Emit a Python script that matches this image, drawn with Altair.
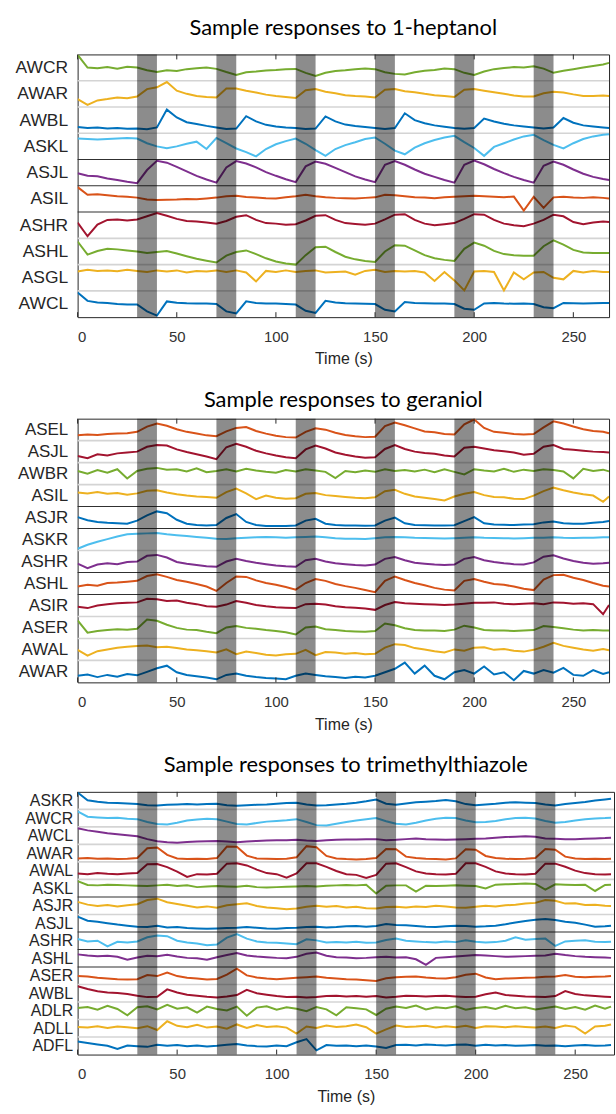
import altair as alt
import pandas as pd

# ---------------- time base (s) and stimulus windows ----------------
T = list(range(0, 270, 5)) + [268]
BAND_START = [30, 70, 110, 150, 190, 230]
BAND_END = [40, 80, 120, 160, 200, 240]
X_TICKS = [0, 50, 100, 150, 200, 250]

BLUE, ORANGE, YELLOW, PURPLE = "#0072BD", "#D95319", "#EDB120", "#7E2F8E"
GREEN, LBLUE, DRED = "#77AC30", "#4DBEEE", "#A2142F"

# ---------------- panel 1 : 1-heptanol (values in % of row height) ----------------
p1_AWCR = [98,50,47,52,46,53,50,40,33,40, 37,44,47,50,45,33,22,32,35,39, 41,44,45,30,18,30,37,40,44,46,
           44,32,26,24,32,38,41,46,44,30, 22,35,44,48,52,50,55,46,30,38, 44,50,56,62,68]
p1_AWAR = [30,8,25,30,36,33,40,68,75,95, 62,50,42,38,36,70,70,62,55,47, 42,38,34,64,68,58,52,45,42,40,
           36,66,68,60,56,50,45,42,38,66, 68,62,56,50,44,40,40,52,58,55, 48,42,42,44,42]
p1_AWBL = [24,20,22,18,20,17,18,15,22,90, 60,42,35,28,22,16,18,65,45,32, 26,22,20,16,18,64,45,33,28,24,
           20,16,20,76,50,38,30,25,20,17, 20,56,45,36,30,26,22,18,22,58, 40,30,26,22,20]
p1_ASKL = [80,78,76,78,80,82,80,62,50,43, 50,60,68,40,82,62,42,28,12,40, 58,70,80,60,36,14,40,55,66,78,
           84,60,34,20,45,62,74,84,90,66, 44,14,48,62,76,88,94,74,56,42, 62,78,88,94,96]
p1_ASJL = [48,38,36,28,22,15,10,60,95,88, 72,55,38,24,12,70,94,85,70,52, 38,25,14,74,92,84,68,52,36,24,
           14,80,94,80,62,46,34,22,12,80, 96,82,64,48,34,22,12,76,92,80, 62,46,34,26,22]
p1_ASIL = [95,66,68,64,60,58,55,48,46,47, 48,50,49,52,55,60,62,57,55,53, 52,56,60,66,60,56,54,53,52,54,
           56,66,64,60,56,55,53,56,58,60, 62,60,58,56,59,6,58,16,56,58, 55,54,56,54,52]
p1_ASHR = [60,8,52,70,72,68,72,84,96,86, 74,66,64,60,56,66,82,88,70,58, 56,52,54,68,86,88,70,58,55,52,
           56,72,90,92,70,56,50,54,58,74, 92,90,70,56,50,46,56,70,90,84, 62,54,60,64,62]
p1_ASHL = [88,38,52,60,58,54,50,44,48,52, 42,32,22,15,8,34,48,54,40,24, 12,4,0,36,66,68,48,30,20,14,
           10,50,74,72,54,36,24,18,14,60, 84,72,52,40,36,34,34,70,92,76, 56,46,44,44,44]
p1_ASGL = [74,80,76,78,75,80,76,72,78,74, 78,70,76,74,78,72,78,70,36,76, 72,78,72,76,78,70,72,74,62,76,
           80,72,76,74,76,70,38,72,40,2, 74,76,72,2,70,44,70,72,50,44, 76,70,76,72,72]
p1_AWCL = [94,62,56,54,50,48,48,22,6,60, 55,53,52,52,50,22,14,60,54,52, 52,50,48,24,16,62,56,53,52,51,
           50,28,22,58,54,53,52,52,50,32, 28,52,54,52,51,52,50,38,34,54, 53,52,53,54,54]

p1_names = ["AWCR", "AWAR", "AWBL", "ASKL", "ASJL", "ASIL", "ASHR", "ASHL", "ASGL", "AWCL"]
p1_series = [p1_AWCR, p1_AWAR, p1_AWBL, p1_ASKL, p1_ASJL, p1_ASIL, p1_ASHR, p1_ASHL, p1_ASGL, p1_AWCL]
p1_colors = [GREEN, YELLOW, BLUE, LBLUE, PURPLE, ORANGE, DRED, GREEN, YELLOW, BLUE]
p1_seps = ["g", "g", "g", "k", "k", "k", "g", "g", "g"]

# ---------------- panel 2 : geraniol ----------------
p2_ASEL = [24,28,26,30,32,34,40,64,78,68, 52,40,32,24,20,42,58,62,44,32, 22,16,14,40,56,50,36,26,20,16,
           18,66,82,70,56,42,38,30,28,74, 96,58,40,36,30,28,30,60,88,78, 64,52,44,40,34]
p2_ASJL = [30,20,38,32,42,46,50,72,80,78, 60,48,38,28,16,70,86,72,54,42, 32,24,20,60,78,64,46,36,28,22,
           24,62,80,62,50,44,40,32,28,68, 72,64,56,52,46,36,40,72,80,62, 58,54,50,48,46]
p2_AWBR = [62,50,66,54,70,28,62,72,76,68, 70,60,74,56,62,70,60,72,64,58, 54,66,60,70,64,58,30,62,56,64,
           58,70,62,66,60,68,56,70,58,46, 70,64,60,72,58,68,62,70,66,60, 28,72,62,68,60]
p2_ASIL = [64,60,66,58,62,54,60,72,74,64, 56,50,46,44,40,66,82,60,34,50, 40,36,38,58,62,52,48,44,40,38,
           42,70,76,58,46,40,34,28,46,58, 66,52,44,42,36,34,50,70,86,74, 64,56,50,22,46]
p2_ASJR = [52,38,30,26,24,22,36,60,78,70, 40,22,16,14,16,48,66,30,16,12, 12,12,14,36,44,22,16,14,14,13,
           14,36,50,24,16,15,14,14,15,34, 52,24,18,17,16,18,20,28,32,24, 22,22,26,30,34]
p2_ASKR = [8,26,40,52,64,74,76,78,80,74, 70,66,62,58,54,52,56,58,60,62, 60,58,60,62,64,60,56,54,53,52,
           56,60,62,60,58,57,56,55,56,58, 60,58,57,56,55,56,58,58,60,58, 57,58,58,60,60]
p2_ASHR = [40,20,36,42,38,48,50,76,80,68, 48,40,34,28,26,50,62,52,44,38, 32,28,26,56,62,50,42,38,34,32,
           36,62,70,56,44,40,36,34,36,62, 70,56,48,42,38,36,46,72,78,64, 52,44,40,42,44]
p2_ASHL = [36,44,40,52,54,58,62,84,92,80, 66,58,48,36,16,52,82,80,64,52, 44,34,22,52,70,62,48,38,30,20,
           10,62,82,66,52,42,30,22,18,62, 70,58,48,44,36,26,20,68,88,90, 76,66,52,40,36]
p2_ASIR = [44,38,50,56,60,62,64,80,78,70, 72,62,56,46,44,54,70,62,52,46, 42,40,38,56,58,54,46,42,40,36,
           30,52,66,60,58,56,54,52,54,58, 62,62,64,58,56,58,60,56,64,62, 58,60,56,10,52]
p2_ASER = [82,26,34,38,42,40,44,86,80,62, 48,40,38,30,24,50,56,48,44,38, 34,28,18,50,54,42,38,34,32,30,
           34,68,60,46,38,36,36,34,40,58, 50,38,36,36,34,36,38,56,52,46, 40,36,38,36,36]
p2_AWAL = [48,22,42,50,58,62,66,68,60,62, 56,50,46,42,36,50,28,40,34,26, 22,28,30,48,24,38,36,30,34,28,
           30,58,74,70,56,50,42,36,50,44, 58,60,48,52,44,40,48,62,80,66, 58,50,44,52,46]
p2_AWAR = [30,36,24,34,26,38,32,48,64,76, 46,34,28,22,14,34,40,30,24,20, 18,14,30,40,34,28,24,20,26,22,
           30,46,62,90,40,76,30,14,46,56, 40,72,36,46,10,52,40,56,44,66, 34,30,56,38,46]

p2_names = ["ASEL", "ASJL", "AWBR", "ASIL", "ASJR", "ASKR", "ASHR", "ASHL", "ASIR", "ASER", "AWAL", "AWAR"]
p2_series = [p2_ASEL, p2_ASJL, p2_AWBR, p2_ASIL, p2_ASJR, p2_ASKR, p2_ASHR, p2_ASHL, p2_ASIR, p2_ASER,
             p2_AWAL, p2_AWAR]
p2_colors = [ORANGE, DRED, GREEN, YELLOW, BLUE, LBLUE, PURPLE, ORANGE, DRED, GREEN, YELLOW, BLUE]
p2_seps = ["g", "g", "g", "k", "k", "g", "k", "k", "g", "g", "g"]

# ---------------- panel 3 : trimethylthiazole ----------------
p3_ASKR = [96,52,44,38,36,34,30,24,22,26, 28,30,28,30,32,24,20,24,26,28, 32,36,38,28,22,24,28,32,38,46,
           56,32,26,34,40,44,48,54,46,30, 24,28,32,38,40,38,36,28,22,30, 36,42,50,56,60]
p3_AWCR = [88,58,54,50,52,46,44,28,16,14, 24,36,42,46,44,30,16,14,22,30, 34,38,44,28,10,8,18,28,36,44,
           50,32,18,14,24,36,46,52,50,36, 26,28,34,44,50,52,48,34,24,28, 36,44,48,50,52]
p3_AWCL = [92,80,72,64,58,52,46,30,18,12, 10,14,16,18,20,16,12,16,20,22, 24,24,26,22,20,24,26,28,28,30,
           30,24,26,30,34,30,28,26,28,30, 32,34,38,42,44,46,44,34,32,30, 30,32,34,36,38]
p3_AWAR = [20,22,18,20,16,18,22,78,82,40, 20,16,18,16,22,88,86,36,20,18, 16,18,26,90,84,34,20,16,14,16,
           22,74,72,30,22,18,16,14,20,72, 70,34,22,18,16,18,22,74,70,30, 20,16,18,16,18]
p3_AWAL = [34,30,36,32,30,34,36,86,88,70, 44,14,30,28,32,90,92,80,56,36, 30,10,34,92,92,72,48,30,26,8,
           26,90,92,70,46,34,30,28,32,92, 92,72,46,34,30,28,32,90,90,72, 50,36,30,28,30]
p3_ASKL = [90,68,66,70,68,66,64,62,66,70, 62,66,56,60,62,60,58,64,56,54, 56,58,60,62,60,64,66,68,66,70,
           20,64,66,66,30,64,62,64,66,64, 62,48,70,72,74,76,74,42,72,70, 68,70,34,68,70]
p3_ASJR = [72,56,48,54,46,52,58,82,90,70, 60,50,40,46,38,52,58,64,48,40, 36,30,34,44,50,44,48,40,44,36,
           34,42,44,40,46,42,50,46,40,38, 44,50,46,52,56,62,66,82,78,62, 64,54,56,50,48]
p3_ASJL = [88,64,58,50,42,36,30,28,36,26, 28,22,20,18,20,22,24,28,24,20, 18,22,24,28,30,26,28,32,34,30,
           34,46,40,38,34,30,28,32,36,34, 30,32,36,44,54,62,70,74,68,58, 52,42,30,32,36]
p3_ASHR = [60,46,50,18,44,40,46,70,80,76, 50,40,34,24,28,68,88,62,46,40, 38,34,30,58,52,40,42,40,44,38,
           40,54,62,50,46,42,40,46,42,52, 44,40,42,50,70,56,60,62,20,46, 50,52,44,42,44]
p3_ASHL = [72,66,62,64,58,42,54,64,62,70, 60,52,50,42,56,68,80,66,60,56, 52,50,58,76,82,64,56,54,50,52,
           56,58,54,56,44,12,52,56,60,64, 68,66,62,58,60,62,64,66,76,68, 62,58,56,54,52]
p3_ASER = [48,46,38,34,30,28,30,54,48,68, 48,38,34,28,32,56,90,52,40,34, 30,34,38,42,46,38,34,30,28,24,
           20,36,42,44,46,40,36,34,42,56, 62,40,30,34,36,38,40,44,46,54, 44,42,44,46,48]
p3_AWBL = [90,74,62,54,52,46,36,28,30,72, 54,42,36,30,26,32,40,70,50,42, 34,28,30,26,28,34,36,32,34,30,
           34,26,30,36,34,32,34,36,32,28, 30,44,54,40,36,32,30,28,34,62, 46,38,34,30,28]
p3_ADLR = [66,72,56,78,60,24,70,76,58,84, 62,70,40,74,60,52,74,22,68,76, 56,70,62,48,72,58,24,70,64,58,
           26,62,74,66,80,58,70,64,76,56, 66,72,60,78,64,70,58,66,74,60, 72,56,80,62,74]
p3_ADLL = [58,54,62,52,60,56,50,62,40,90, 64,56,70,54,60,48,72,52,68,58, 62,54,20,60,52,66,58,62,72,56,
           20,44,66,58,60,64,54,62,56,64, 52,62,60,56,62,58,54,60,52,66, 58,20,60,64,72]
p3_ADFL = [74,66,58,50,32,52,48,44,56,50, 54,48,52,46,50,56,60,52,48,46, 52,48,70,88,24,54,50,52,48,52,
           46,38,54,56,52,58,54,52,56,58, 50,56,52,54,50,52,54,50,52,48, 52,54,50,52,54]

p3_names = ["ASKR", "AWCR", "AWCL", "AWAR", "AWAL", "ASKL", "ASJR", "ASJL", "ASHR", "ASHL", "ASER",
            "AWBL", "ADLR", "ADLL", "ADFL"]
p3_series = [p3_ASKR, p3_AWCR, p3_AWCL, p3_AWAR, p3_AWAL, p3_ASKL, p3_ASJR, p3_ASJL, p3_ASHR, p3_ASHL,
             p3_ASER, p3_AWBL, p3_ADLR, p3_ADLL, p3_ADFL]
p3_colors = [BLUE, LBLUE, PURPLE, ORANGE, DRED, GREEN, YELLOW, BLUE, LBLUE, PURPLE, ORANGE, DRED, GREEN,
             YELLOW, BLUE]
p3_seps = ["g", "g", "g", "g", "g", "k", "g", "k", "k", "k", "g", "g", "g", "g"]

SEP_COLOR = {"g": "#d4d4d4", "k": "#303030"}
SEP_WIDTH = {"g": 1.6, "k": 1.1}
FONT = "Liberation Sans"
Y_EXTENT = 77


def panel(title, names, series, colors, seps, width, height, xmax, lab_size, lab_pad, title_off):
    n = len(names)
    rows = []
    for i, (nm, vals, c) in enumerate(zip(names, series, colors)):
        base = n - 1 - i
        for t, v in zip(T, vals):
            rows.append({"t": t, "y": base + v / 100.0, "name": nm, "col": c})
    df = pd.DataFrame(rows)
    sep_df = pd.DataFrame({
        "y": [n - 1 - k for k in range(len(seps))],
        "c": [SEP_COLOR[s] for s in seps],
        "w": [SEP_WIDTH[s] for s in seps],
    })
    band_df = pd.DataFrame({"a": BAND_START, "b": BAND_END})
    tick_df = pd.DataFrame({"t": X_TICKS})

    xs = alt.Scale(domain=[0, xmax], nice=False, zero=False)
    ys = alt.Scale(domain=[0, n], nice=False, zero=False)
    label_expr = "[" + ",".join("'%s'" % s for s in names[::-1]) + "][floor(datum.value)]"
    xaxis = alt.Axis(values=X_TICKS, format="d", ticks=False, domain=False, grid=False,
                     labelFontSize=15, labelColor="#333333", labelFont=FONT, labelPadding=12,
                     title="Time (s)", titleFontSize=16, titleFont=FONT, titleColor="#262626",
                     titleFontWeight="normal", titlePadding=7)
    yaxis = alt.Axis(values=[i + 0.5 for i in range(n)], labelExpr=label_expr, ticks=False,
                     domain=False, grid=False, labelFontSize=lab_size, labelColor="#262626",
                     labelFont=FONT, labelPadding=lab_pad, title=None,
                     minExtent=Y_EXTENT, maxExtent=Y_EXTENT)

    def X(f):
        return alt.X(f + ":Q", scale=xs, axis=xaxis)

    def Y(f):
        return alt.Y(f + ":Q", scale=ys, axis=yaxis)

    seps_layer = alt.Chart(sep_df).mark_rule().encode(
        y=Y("y"), x=alt.value(0), x2=alt.value(width),
        color=alt.Color("c:N", scale=None), strokeWidth=alt.StrokeWidth("w:Q", scale=None))
    lines = alt.Chart(df).mark_line(strokeWidth=2, clip=True).encode(
        x=X("t"), y=Y("y"), color=alt.Color("col:N", scale=None), detail="name:N")
    bands = alt.Chart(band_df).mark_rect(color="#000000", opacity=0.45).encode(
        x=X("a"), x2="b:Q", y=alt.value(0), y2=alt.value(height))
    ticks_top = alt.Chart(tick_df).mark_rule(color="#262626", strokeWidth=1).encode(
        x=X("t"), y=alt.value(0), y2=alt.value(5))
    ticks_bot = alt.Chart(tick_df).mark_rule(color="#262626", strokeWidth=1).encode(
        x=X("t"), y=alt.value(height - 5), y2=alt.value(height))

    return alt.layer(seps_layer, lines, bands, ticks_top, ticks_bot).properties(
        width=width, height=height,
        title=alt.TitleParams(title, fontSize=22, font="Lato", fontWeight="normal", color="#000000",
                              anchor="middle", frame="group", offset=title_off))


c1 = panel("Sample responses to 1-heptanol", p1_names, p1_series, p1_colors, p1_seps,
           534, 264, 268, 17.5, 10, 14)
c2 = panel("Sample responses to geraniol", p2_names, p2_series, p2_colors, p2_seps,
           534, 265, 268, 17, 10, 6)
c3 = panel("Sample responses to trimethylthiazole", p3_names, p3_series, p3_colors, p3_seps,
           539, 264, 269.5, 16, 5, 14)

chart = alt.vconcat(c1, c2, c3, spacing=21).properties(
    padding={"left": 0, "top": 14, "right": 0, "bottom": 0}
).configure_view(stroke="#262626", strokeWidth=1)

chart.save("out.html", embed_options={"renderer": "svg", "actions": False})
